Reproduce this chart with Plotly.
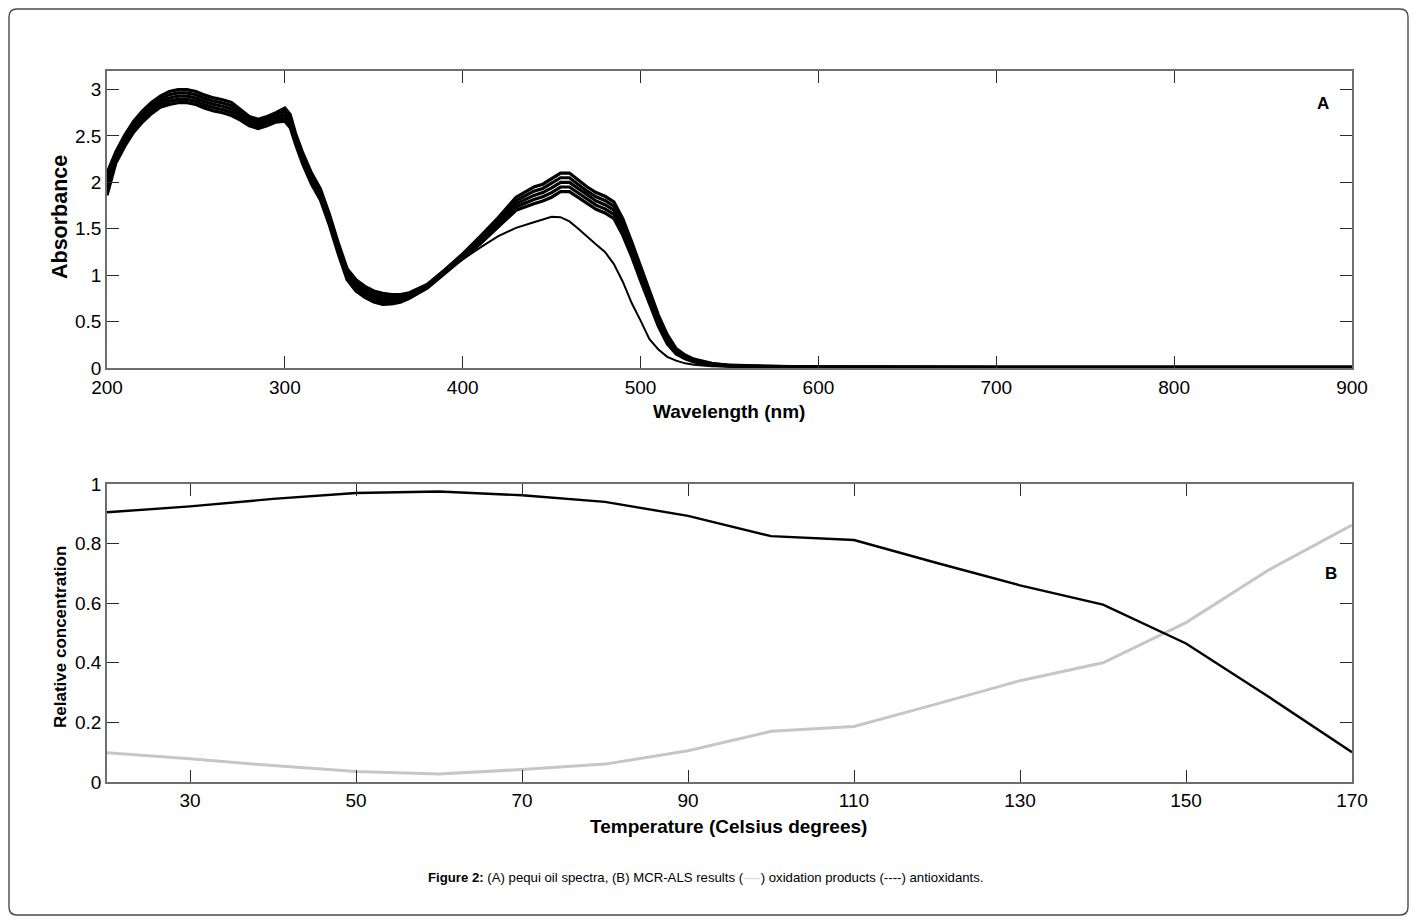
import plotly.graph_objects as go

# ---------------- data: spectra (panel A) ----------------
wavelength = [200, 205, 210, 215, 220, 225, 230, 235, 240, 245, 250, 255, 260, 265, 270, 275,
              280, 285, 290, 295, 300, 303, 306, 310, 315, 320, 325, 330, 335, 340, 345, 350,
              355, 360, 365, 370, 380, 390, 400, 410, 420, 430, 440, 445, 450, 455, 460, 465,
              470, 475, 480, 485, 490, 495, 500, 505, 510, 515, 520, 525, 530, 540, 550, 570,
              600, 700, 800, 900]

spec_1 = [2.10, 2.33, 2.51, 2.66, 2.77, 2.86, 2.93, 2.98, 3.00, 3.00, 2.98, 2.94, 2.91, 2.89, 2.86, 2.79,
          2.71, 2.68, 2.71, 2.75, 2.80, 2.73, 2.53, 2.32, 2.10, 1.93, 1.66, 1.35, 1.07, 0.95, 0.88, 0.83,
          0.805, 0.79, 0.79, 0.81, 0.90, 1.06, 1.23, 1.42, 1.62, 1.84, 1.95, 1.98, 2.04, 2.10, 2.10, 2.02,
          1.95, 1.89, 1.85, 1.79, 1.61, 1.36, 1.10, 0.84, 0.57, 0.36, 0.21, 0.14, 0.095, 0.05, 0.03, 0.02,
          0.01, 0.008, 0.007, 0.006]

spec_2 = [2.05, 2.30, 2.48, 2.63, 2.74, 2.83, 2.90, 2.945, 2.965, 2.965, 2.945, 2.905, 2.875, 2.855, 2.825, 2.76,
          2.685, 2.655, 2.685, 2.725, 2.765, 2.695, 2.50, 2.29, 2.07, 1.90, 1.63, 1.32, 1.04, 0.92, 0.85, 0.80,
          0.775, 0.765, 0.77, 0.795, 0.89, 1.05, 1.215, 1.40, 1.595, 1.805, 1.905, 1.935, 1.99, 2.05, 2.05, 1.975,
          1.905, 1.845, 1.805, 1.745, 1.565, 1.32, 1.06, 0.805, 0.54, 0.335, 0.195, 0.13, 0.088, 0.045, 0.028, 0.018,
          0.01, 0.008, 0.007, 0.006]

spec_3 = [2.00, 2.27, 2.45, 2.60, 2.71, 2.80, 2.87, 2.91, 2.93, 2.93, 2.91, 2.87, 2.84, 2.82, 2.79, 2.73,
          2.66, 2.63, 2.66, 2.70, 2.73, 2.66, 2.47, 2.26, 2.04, 1.87, 1.60, 1.29, 1.01, 0.89, 0.82, 0.77,
          0.745, 0.74, 0.75, 0.78, 0.88, 1.04, 1.20, 1.38, 1.57, 1.77, 1.86, 1.89, 1.94, 2.00, 2.00, 1.93,
          1.86, 1.80, 1.76, 1.70, 1.52, 1.28, 1.02, 0.77, 0.51, 0.31, 0.18, 0.12, 0.08, 0.04, 0.025, 0.015,
          0.01, 0.008, 0.007, 0.006]

spec_4 = [1.95, 2.24, 2.42, 2.57, 2.68, 2.77, 2.84, 2.875, 2.895, 2.895, 2.875, 2.835, 2.805, 2.785, 2.755, 2.70,
          2.635, 2.605, 2.635, 2.675, 2.695, 2.625, 2.44, 2.23, 2.01, 1.84, 1.57, 1.26, 0.98, 0.86, 0.79, 0.74,
          0.715, 0.715, 0.73, 0.765, 0.87, 1.03, 1.185, 1.36, 1.545, 1.735, 1.815, 1.845, 1.89, 1.95, 1.95, 1.885,
          1.815, 1.755, 1.715, 1.655, 1.475, 1.24, 0.98, 0.735, 0.48, 0.285, 0.165, 0.11, 0.073, 0.035, 0.023, 0.013,
          0.01, 0.008, 0.007, 0.006]

spec_5 = [1.86, 2.21, 2.39, 2.54, 2.65, 2.74, 2.81, 2.84, 2.86, 2.86, 2.84, 2.80, 2.77, 2.75, 2.72, 2.67,
          2.61, 2.58, 2.61, 2.65, 2.66, 2.59, 2.41, 2.20, 1.98, 1.81, 1.54, 1.23, 0.95, 0.83, 0.76, 0.71,
          0.685, 0.69, 0.71, 0.75, 0.86, 1.02, 1.17, 1.34, 1.52, 1.70, 1.77, 1.80, 1.84, 1.90, 1.90, 1.84,
          1.77, 1.71, 1.67, 1.61, 1.43, 1.20, 0.94, 0.70, 0.45, 0.26, 0.15, 0.10, 0.065, 0.03, 0.02, 0.01,
          0.01, 0.008, 0.007, 0.006]

spec_170 = [1.92, 2.23, 2.41, 2.56, 2.67, 2.76, 2.83, 2.87, 2.89, 2.89, 2.87, 2.83, 2.80, 2.78, 2.75, 2.69,
            2.62, 2.59, 2.62, 2.66, 2.67, 2.60, 2.43, 2.22, 2.00, 1.83, 1.56, 1.25, 0.97, 0.85, 0.78, 0.73,
            0.70, 0.70, 0.72, 0.76, 0.87, 1.03, 1.17, 1.30, 1.42, 1.51, 1.57, 1.60, 1.63, 1.625, 1.58, 1.50,
            1.41, 1.33, 1.25, 1.12, 0.93, 0.70, 0.51, 0.31, 0.20, 0.12, 0.08, 0.05, 0.035, 0.02, 0.015, 0.01,
            0.008, 0.006, 0.005, 0.005]

bundle = [spec_1, spec_2, spec_3, spec_4, spec_5]

# ---------------- data: MCR-ALS concentrations (panel B) ----------------
temperature = [20, 30, 40, 50, 60, 70, 80, 90, 100, 110, 120, 130, 140, 150, 160, 170]
antioxidants = [0.905, 0.925, 0.950, 0.970, 0.975, 0.962, 0.940, 0.893, 0.825, 0.812,
                0.735, 0.660, 0.595, 0.465, 0.285, 0.100]
oxidation = [0.098, 0.078, 0.055, 0.035, 0.027, 0.042, 0.060, 0.105, 0.170, 0.186,
             0.262, 0.340, 0.400, 0.535, 0.712, 0.862]

xticks_a = [200, 300, 400, 500, 600, 700, 800, 900]
yticks_a = [0, 0.5, 1, 1.5, 2, 2.5, 3]
ytext_a = ["0", "0.5", "1", "1.5", "2", "2.5", "3"]
xticks_b = [30, 50, 70, 90, 110, 130, 150, 170]
yticks_b = [0, 0.2, 0.4, 0.6, 0.8, 1]
ytext_b = ["0", "0.2", "0.4", "0.6", "0.8", "1"]

# ---------------- layout geometry (pixels) ----------------
W_FIG, H_FIG = 1416, 923
ML, MR, MT, MB = 107, 64, 71, 141
PW = W_FIG - ML - MR
PH = H_FIG - MT - MB


def px(x):
    return (x - ML) / PW


def py(y):
    return (H_FIG - MB - y) / PH


FONT = "Liberation Sans, Arial, Helvetica, sans-serif"

fig = go.Figure()

for s in bundle:
    fig.add_trace(go.Scatter(x=wavelength, y=s, mode="lines",
                             line=dict(color="black", width=3.2),
                             xaxis="x", yaxis="y", showlegend=False, hoverinfo="skip"))
fig.add_trace(go.Scatter(x=wavelength, y=spec_170, mode="lines",
                         line=dict(color="black", width=2),
                         xaxis="x", yaxis="y", showlegend=False, hoverinfo="skip"))

fig.add_trace(go.Scatter(x=temperature, y=oxidation, mode="lines",
                         line=dict(color="#c6c6c6", width=3),
                         xaxis="x2", yaxis="y2", showlegend=False))
fig.add_trace(go.Scatter(x=temperature, y=antioxidants, mode="lines",
                         line=dict(color="black", width=2.4),
                         xaxis="x2", yaxis="y2", showlegend=False))

axis_common = dict(showline=True, linecolor="#6e6e6e", linewidth=1.5, mirror="ticks",
                   ticks="inside", ticklen=12, tickwidth=1.4, tickcolor="#2a2a2a",
                   showgrid=False, zeroline=False,
                   tickfont=dict(family=FONT, size=19, color="black"))

fig.update_layout(
    width=W_FIG, height=H_FIG,
    margin=dict(l=ML, r=MR, t=MT, b=MB),
    paper_bgcolor="white", plot_bgcolor="white",
    xaxis=dict(domain=[0, 1], range=[200, 900], tickvals=xticks_a, anchor="y",
               ticklabelstandoff=1, **axis_common),
    yaxis=dict(domain=[py(368), 1], range=[0, 3.2], tickvals=yticks_a, ticktext=ytext_a,
               anchor="x", **axis_common),
    xaxis2=dict(domain=[0, 1], range=[20, 170], tickvals=xticks_b, anchor="y2",
                **axis_common),
    yaxis2=dict(domain=[0, py(484)], range=[0, 1], tickvals=yticks_b, ticktext=ytext_b,
                anchor="x2", **axis_common),
)

ann = []
ann.append(dict(text="<b>Absorbance</b>", x=px(60), y=py(217), textangle=-90,
                font=dict(family=FONT, size=21.5, color="black")))
ann.append(dict(text="<b>Wavelength (nm)</b>", x=px(729), y=py(412),
                font=dict(family=FONT, size=19, color="black")))
ann.append(dict(text="<b>Relative concentration</b>", x=px(60), y=py(637), textangle=-90,
                font=dict(family=FONT, size=17, color="black")))
ann.append(dict(text="<b>Temperature (Celsius degrees)</b>", x=px(728), y=py(826),
                font=dict(family=FONT, size=19, color="black")))
ann.append(dict(text="<b>A</b>", x=px(1323), y=py(103),
                font=dict(family=FONT, size=17, color="black")))
ann.append(dict(text="<b>B</b>", x=px(1331), y=py(573),
                font=dict(family=FONT, size=17, color="black")))
ann.append(dict(text="<b>Figure 2:</b> (A) pequi oil spectra, (B) MCR-ALS results "
                     "(<span style='color:#cfcfcf'>----</span>) oxidation products (----) antioxidants.",
                x=px(706), y=py(878),
                font=dict(family=FONT, size=13.2, color="black")))
for a in ann:
    a.update(xref="paper", yref="paper", showarrow=False, xanchor="center", yanchor="middle")
fig.update_layout(annotations=ann)

# rounded outer frame
x0, x1 = px(9), px(1408)
y0, y1 = py(915), py(9)
rx, ry = 8 / PW, 8 / PH
path = (f"M {x0+rx},{y1} L {x1-rx},{y1} Q {x1},{y1} {x1},{y1-ry} "
        f"L {x1},{y0+ry} Q {x1},{y0} {x1-rx},{y0} "
        f"L {x0+rx},{y0} Q {x0},{y0} {x0},{y0+ry} "
        f"L {x0},{y1-ry} Q {x0},{y1} {x0+rx},{y1} Z")
fig.add_shape(type="path", path=path, xref="paper", yref="paper",
              line=dict(color="#4a4a4a", width=1.4), layer="below")

fig.write_html("out.html", config={"displayModeBar": False},
               post_script="document.body.style.margin='0px';document.body.style.overflow='hidden';")
